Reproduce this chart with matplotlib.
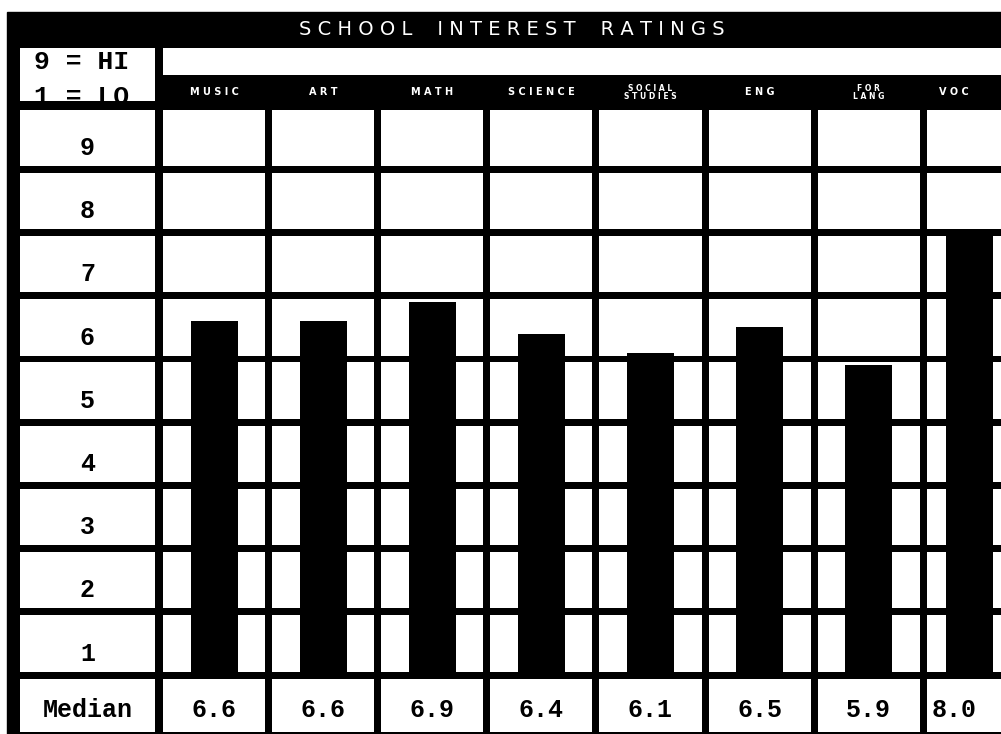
import matplotlib.pyplot as plt
from matplotlib.patches import Rectangle

# data
subjects = ['MUSIC', 'ART', 'MATH', 'SCIENCE', 'SOCIAL\nSTUDIES', 'ENG', 'FOR\nLANG', 'VOC']
medians = [6.6, 6.6, 6.9, 6.4, 6.1, 6.5, 5.9, 8.0]
levels = [9, 8, 7, 6, 5, 4, 3, 2, 1]

mono = ['Liberation Mono', 'DejaVu Sans Mono']
sans = ['DejaVu Sans']

fig = plt.figure(figsize=(10.01, 7.34), dpi=100)
ax = fig.add_axes([0, 0, 1, 1])
x_lo, x_hi = -1.962, 7.213
y_lo, y_hi = 0.0665, 11.68
ax.set_xlim(x_lo, x_hi)
ax.set_ylim(y_lo, y_hi)
ax.axis('off')

# black board behind everything
top_edge = 11.49
ax.add_patch(Rectangle((-1.898, y_lo - 1), 12, top_edge - y_lo + 1, color='black', zorder=0))

gx, gy = 0.064, 0.11          # gaps between cells (the black grid lines)
lab_x0, lab_x1 = -1.779, -0.541
lab_xc = (lab_x0 + lab_x1) / 2
last_x = x_hi - 0.43          # last column is cut off by the right edge

def cell(x0, x1, y0, y1):
    ax.add_patch(Rectangle((x0, y0), x1 - x0, y1 - y0, color='white', lw=0, zorder=1))

def spaced(s):
    return '\n'.join(' '.join(line) for line in s.split('\n'))

# grid of white cells, one row per rating level
for k in levels:
    y0, y1 = k + gy / 2, k + 1 - gy / 2
    cell(lab_x0, lab_x1, y0, y1)
    ax.text(lab_xc, k + 0.34, str(k), ha='center', va='center', fontsize=18,
            fontweight='bold', family=mono, zorder=4)
    for i in range(len(subjects)):
        cell(i - 0.5 + gx / 2, i + 0.5 - gx / 2, y0, y1)

# median row
med_y0, med_y1 = 0.1, 0.93
cell(lab_x0, lab_x1, med_y0, med_y1)
ax.text(lab_xc, 0.45, 'Median', ha='center', va='center', fontsize=18,
        fontweight='bold', family=mono, zorder=4)
for i, m in enumerate(medians):
    cell(i - 0.5 + gx / 2, i + 0.5 - gx / 2, med_y0, med_y1)
    ax.text(min(i, last_x), 0.45, f'{m:.1f}', ha='center', va='center', fontsize=18,
            fontweight='bold', family=mono, zorder=4)

# bars run up from the bottom line of row 1
xs = [min(i, x_hi - 0.29) for i in range(len(subjects))]
ax.bar(xs, [m - 1 for m in medians], bottom=1, width=0.43, color='black', zorder=3)

# header: white strip and key box
cell(-0.468, x_hi + 1, 10.49, 10.92)
cell(lab_x0, lab_x1, 10.08, 10.92)
ax.text(lab_xc - 0.05, 10.70, '9 = HI', ha='center', va='center', fontsize=19,
        fontweight='bold', family=mono, zorder=4)
ax.text(lab_xc - 0.05, 10.15, '1 = LO', ha='center', va='center', fontsize=19,
        fontweight='bold', family=mono, zorder=4)
# black rule cutting off the lower key line
ax.add_patch(Rectangle((lab_x0 - 0.1, 9.95), 10, 0.13, color='black', lw=0, zorder=5))

for i, s in enumerate(subjects):
    two = '\n' in s
    ax.text(min(i, last_x), 10.22, spaced(s), ha='center', va='center', color='white',
            fontsize=5.5 if two else 7, fontweight='bold', family=sans,
            linespacing=0.9, zorder=6)

title = '    '.join(' '.join(w) for w in 'SCHOOL INTEREST RATINGS'.split())
ax.text(2.73, 11.21, title, ha='center', va='center', color='white',
        fontsize=14, family=sans, zorder=6)

fig.savefig('out.png', dpi=100)
